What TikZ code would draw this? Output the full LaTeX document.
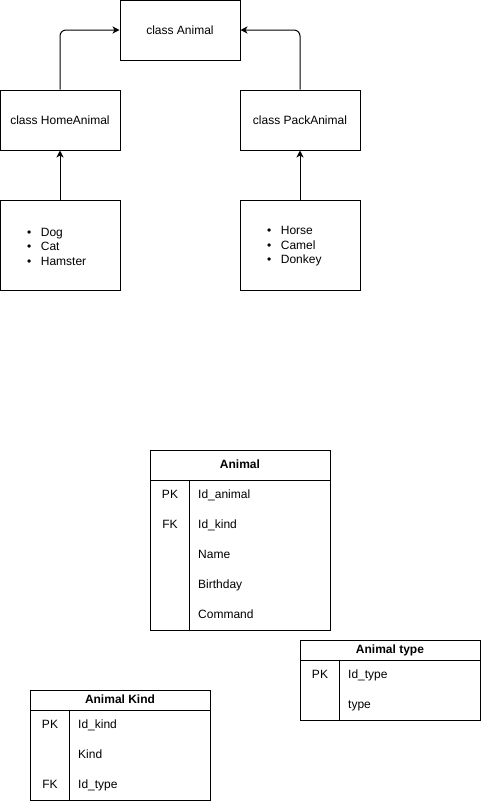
\documentclass[tikz,border=0pt]{standalone}
\usepackage{fontspec}
\setmainfont{Liberation Sans}
\usetikzlibrary{calc}
\usetikzlibrary{arrows.meta}

\newcommand{\diagramfont}{\fontsize{12}{14.5}\selectfont}

\tikzset{
	classbox/.style = {draw, line width = 1pt, minimum width = 120pt, minimum height = 60pt, inner sep = 0pt},
	listbox/.style = {draw, line width = 1pt, minimum width = 120pt, minimum height = 90pt, inner sep = 0pt},
	listtext/.style = {anchor = west, align = left, inner sep = 0pt},
	inherit/.style = {line width = 1pt, rounded corners = 6pt, -{Stealth[length = 7pt, width = 7pt, inset = 2pt]}},
	tablehead/.style = {draw, line width = 1pt, minimum width = 180pt, inner sep = 0pt, text height = 8.7pt, text depth = 2.5pt, font = \diagramfont\bfseries},
	tablebody/.style = {draw, line width = 1pt, minimum width = 180pt, inner sep = 0pt},
	tableline/.style = {line width = 1pt},
	keycell/.style = {inner sep = 0pt, text height = 8.7pt, text depth = 2.5pt},
	fieldcell/.style = {anchor = west, inner sep = 0pt, text height = 8.7pt, text depth = 2.5pt}
}

\begin{document}
\begin{tikzpicture}[x = 1pt, y = -1pt, font = \diagramfont]

	\useasboundingbox (0,0) rectangle (481,801);
	\def \keyWidth {40};
	\def \fieldGap {8};

	% classes
	\node [classbox] (animalClass) at (180,30) {class Animal};
	\node [classbox] (homeClass) at (60,120) {class HomeAnimal};
	\node [classbox] (packClass) at (300,120) {class PackAnimal};

	% lists of animals
	\node [listbox] (homeList) at (60,245) {};
	\node [listbox] (packList) at (300,245) {};
	\node [listtext] (homeItems) at (27,246.5) {\textbullet\hspace{9.5pt}Dog\\\textbullet\hspace{9.5pt}Cat\\\textbullet\hspace{9.5pt}Hamster};
	\node [listtext] (packItems) at (267,246.5) {\textbullet\hspace{9.5pt}Horse\\\textbullet\hspace{9.5pt}Camel\\\textbullet\hspace{9.5pt}Donkey};

	% inheritance arrows
	\draw [inherit] (homeClass.north) |- (animalClass.west);
	\draw [inherit] (packClass.north) |- (animalClass.east);
	\draw [inherit] (homeList.north) -- (homeClass.south);
	\draw [inherit] (packList.north) -- (packClass.south);

	% table Animal
	\node [tablehead, minimum height = 30pt] (animalHead) at (240,465) {Animal};
	\node [tablebody, minimum height = 150pt] (animalBody) at (240,555) {};
	\draw [tableline] ($(animalBody.north west) + (\keyWidth,0)$) -- ($(animalBody.south west) + (\keyWidth,0)$);
	\node [keycell] (animalPk) at (170,495) {PK};
	\node [keycell] (animalFk) at (170,525) {FK};
	\node [fieldcell] (animalId) at ({190 + \fieldGap},495) {Id\_animal};
	\node [fieldcell] (animalKindId) at ({190 + \fieldGap},525) {Id\_kind};
	\node [fieldcell] (animalName) at ({190 + \fieldGap},555) {Name};
	\node [fieldcell] (animalBirthday) at ({190 + \fieldGap},585) {Birthday};
	\node [fieldcell] (animalCommand) at ({190 + \fieldGap},615) {Command};

	% table Animal type
	\node [tablehead, minimum height = 20pt] (typeHead) at (390,650) {Animal type};
	\node [tablebody, minimum height = 60pt] (typeBody) at (390,690) {};
	\draw [tableline] ($(typeBody.north west) + (\keyWidth,0)$) -- ($(typeBody.south west) + (\keyWidth,0)$);
	\node [keycell] (typePk) at (320,675) {PK};
	\node [fieldcell] (typeId) at ({340 + \fieldGap},675) {Id\_type};
	\node [fieldcell] (typeName) at ({340 + \fieldGap},705) {type};

	% table Animal Kind
	\node [tablehead, minimum height = 20pt] (kindHead) at (120,700) {Animal Kind};
	\node [tablebody, minimum height = 90pt] (kindBody) at (120,755) {};
	\draw [tableline] ($(kindBody.north west) + (\keyWidth,0)$) -- ($(kindBody.south west) + (\keyWidth,0)$);
	\node [keycell] (kindPk) at (50,725) {PK};
	\node [keycell] (kindFk) at (50,785) {FK};
	\node [fieldcell] (kindId) at ({70 + \fieldGap},725) {Id\_kind};
	\node [fieldcell] (kindName) at ({70 + \fieldGap},755) {Kind};
	\node [fieldcell] (kindTypeId) at ({70 + \fieldGap},785) {Id\_type};

\end{tikzpicture}
\end{document}
